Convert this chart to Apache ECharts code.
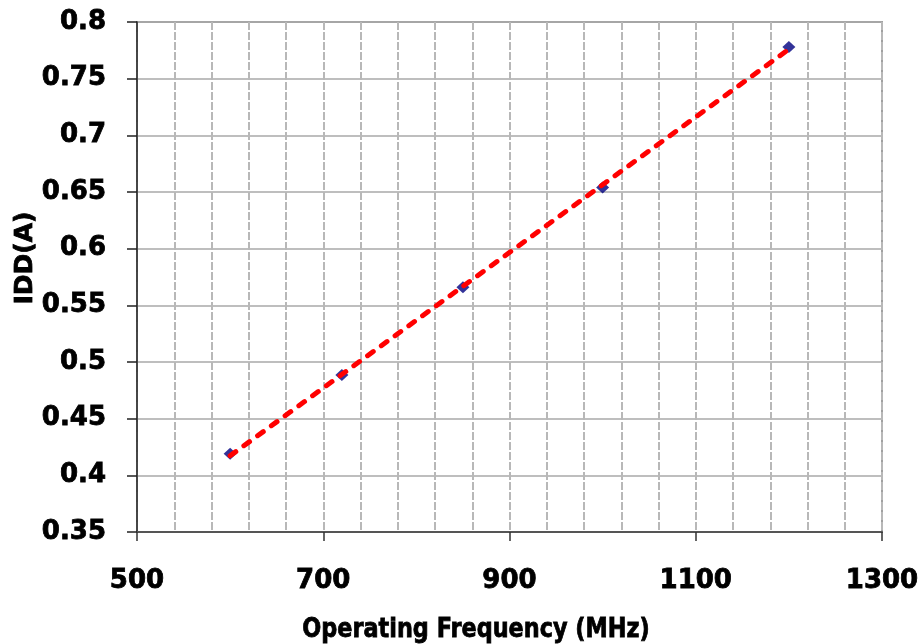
<!DOCTYPE html>
<html>
<head>
<meta charset="utf-8">
<title>IDD vs Operating Frequency</title>
<script src="https://cdn.jsdelivr.net/npm/echarts@6/dist/echarts.min.js"></script>
<style>
  html, body { margin: 0; padding: 0; background: #ffffff; }
  #chart { width: 920px; height: 644px; }
</style>
</head>
<body>
<div id="chart"></div>
<script>
// Measured supply current at each operating frequency
const frequencyMHz = [600, 720, 850, 1000, 1200];
const iddAmps = [0.419, 0.4885, 0.566, 0.654, 0.778];

// Linear trend line end points
const trendFrequency = [600, 1200];
const trendIdd = [0.4173, 0.776];

// Axis ranges and titles
const xRange = [500, 1300];
const xStep = 200;
const yRange = [0.35, 0.8];
const yStep = 0.05;
const xTitle = 'Operating Frequency (MHz)';
const yTitle = 'IDD(A)';

const pairs = (xs, ys) => xs.map((x, i) => [x, ys[i]]);

// Heavy sans used for every piece of text
const heavyFont = '"DejaVu Sans", sans-serif';

const chart = echarts.init(document.getElementById('chart'), null, { renderer: 'canvas' });

chart.setOption({
  backgroundColor: '#ffffff',
  animation: false,
  grid: {
    left: 137, right: 38, top: 22, bottom: 112,
    outerBoundsMode: 'none',
    containLabel: false,
    show: true, borderColor: '#a0a0a0', borderWidth: 2, backgroundColor: '#ffffff'
  },
  xAxis: {
    type: 'value',
    min: xRange[0], max: xRange[1], interval: xStep,
    axisLine: { show: true, onZero: false, lineStyle: { color: '#555555', width: 2 } },
    axisTick: { show: true, inside: false, length: 9, lineStyle: { color: '#333333', width: 1.5 } },
    minorTick: { show: false, splitNumber: 5 },
    splitLine: { show: true, lineStyle: { color: '#b8b8b8', width: 2, type: [8, 2] } },
    minorSplitLine: { show: true, lineStyle: { color: '#b8b8b8', width: 2, type: [8, 2] } },
    axisLabel: {
      margin: 36,
      color: '#000000',
      fontFamily: heavyFont,
      fontWeight: 'bold',
      fontSize: 26,
      textBorderColor: '#000000',
      textBorderWidth: 0.8,
      formatter: v => String(v)
    }
  },
  yAxis: {
    type: 'value',
    min: yRange[0], max: yRange[1], interval: yStep,
    axisLine: { show: true, onZero: false, lineStyle: { color: '#222222', width: 1.5 } },
    axisTick: { show: true, inside: false, length: 10, lineStyle: { color: '#222222', width: 1.5 } },
    splitLine: { show: true, lineStyle: { color: '#a8a8a8', width: 1.5, type: 'solid' } },
    axisLabel: {
      margin: 31,
      color: '#000000',
      fontFamily: heavyFont,
      fontWeight: 'bold',
      fontSize: 26,
      textBorderColor: '#000000',
      textBorderWidth: 0.8,
      formatter: v => String(+v.toFixed(2))
    }
  },
  graphic: [
    {
      type: 'text',
      x: 476, y: 630,
      scaleX: 0.86,
      style: {
        text: xTitle,
        x: 0, y: 0,
        align: 'center', verticalAlign: 'middle',
        fill: '#000000',
        stroke: '#000000',
        lineWidth: 0.8,
        font: 'bold 26px ' + heavyFont
      }
    },
    {
      type: 'text',
      x: 25, y: 258,
      rotation: Math.PI / 2,
      style: {
        text: yTitle,
        x: 0, y: 0,
        align: 'center', verticalAlign: 'middle',
        fill: '#000000',
        stroke: '#000000',
        lineWidth: 0.8,
        font: 'bold 25px ' + heavyFont
      }
    }
  ],
  series: [
    {
      name: 'IDD',
      type: 'scatter',
      data: pairs(frequencyMHz, iddAmps),
      symbol: 'diamond',
      symbolSize: [13, 12],
      itemStyle: { color: '#000080' },
      z: 3
    },
    {
      name: 'Trend',
      type: 'line',
      data: pairs(trendFrequency, trendIdd),
      showSymbol: false,
      symbol: 'none',
      lineStyle: { color: '#ff0000', width: 5, type: [7, 10], cap: 'round' },
      z: 4
    }
  ]
});
</script>
</body>
</html>
